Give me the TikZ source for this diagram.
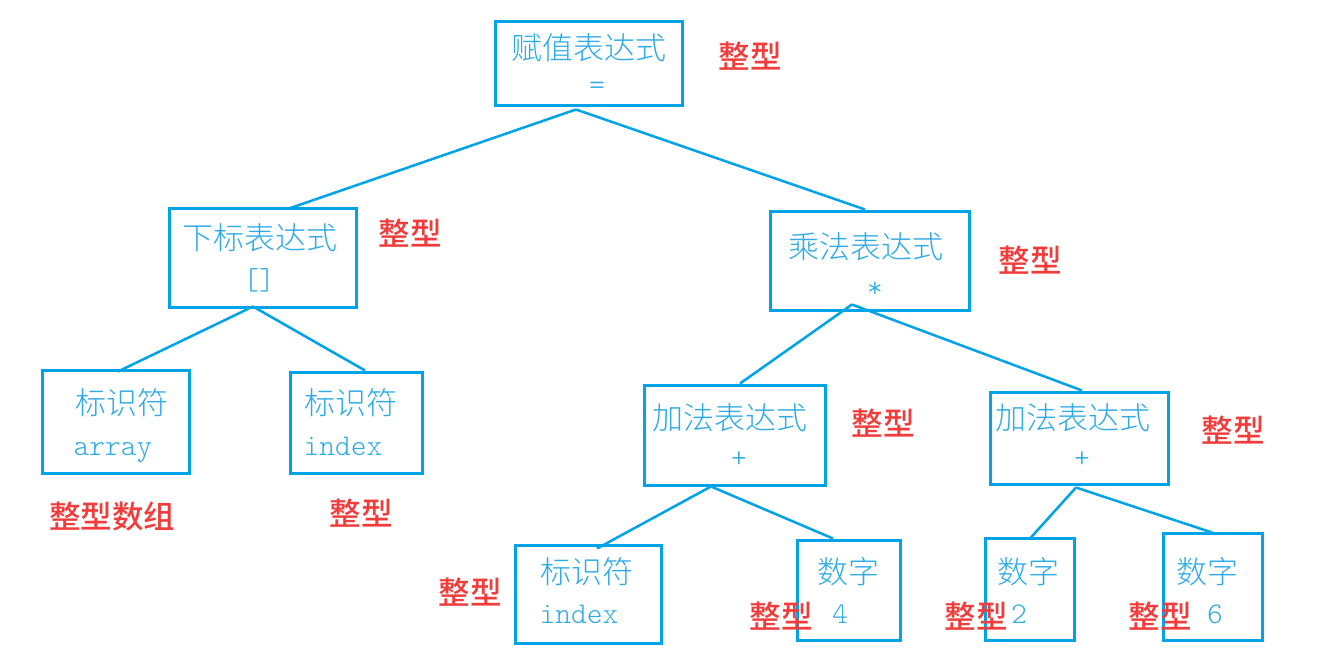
\documentclass[tikz,border=0pt]{standalone}
\usepackage{fontspec}
\setmainfont{Noto Sans CJK SC}
\newfontfamily\cjklight{Noto Sans CJK SC Light}
\newfontfamily\cjkmed{Noto Sans CJK SC Medium}
\newfontfamily\monolight{Latin Modern Mono Light}
\definecolor{boxblue}{HTML}{00A2E8}
\definecolor{txtblue}{HTML}{2EAAE6}
\definecolor{typred}{HTML}{F23B3B}
\begin{document}
\begin{tikzpicture}[x=1pt,y={(0pt,-1pt)},
  box/.style={draw=boxblue, line width=3pt, inner sep=0pt, rectangle},
  edge/.style={draw=boxblue, line width=2.5pt},
  cn/.style={text=txtblue, font=\fontsize{31}{31}\selectfont\cjklight, inner sep=0pt},
  lat/.style={text=txtblue, font=\fontsize{30}{30}\selectfont\monolight, inner sep=0pt},
  typ/.style={text=typred, font=\fontsize{31.5}{31.5}\selectfont\cjkmed, inner sep=0pt}]
\useasboundingbox (0,0) rectangle (1323,650);
% boxes
\node[box, minimum width=187pt, minimum height=84pt]  (b1)  at (588.5,64) {};
\node[box, minimum width=187pt, minimum height=99pt]  (b2)  at (262.5,257.5) {};
\node[box, minimum width=199pt, minimum height=99pt]  (b3)  at (869.5,260.5) {};
\node[box, minimum width=147pt, minimum height=103pt] (b4)  at (115.5,421.5) {};
\node[box, minimum width=132pt, minimum height=101pt] (b5)  at (356,422.5) {};
\node[box, minimum width=181pt, minimum height=100pt] (b6)  at (734.5,435) {};
\node[box, minimum width=178pt, minimum height=92pt]  (b7)  at (1079,438) {};
\node[box, minimum width=146pt, minimum height=98pt]  (b8)  at (588,594) {};
\node[box, minimum width=103pt, minimum height=100pt] (b9)  at (848.5,590) {};
\node[box, minimum width=89pt,  minimum height=102pt] (b10) at (1029.5,589) {};
\node[box, minimum width=99pt,  minimum height=107pt] (b11) at (1212.5,586.5) {};
% connectors
\draw[edge] ([shift={(-12.5,2)}]b1.south) -- ([shift={(26.5,2)}]b2.north);
\draw[edge] ([shift={(-12.5,2)}]b1.south) -- ([shift={(-4.5,0)}]b3.north);
\draw[edge] ([shift={(-9.5,-2)}]b2.south) -- ([shift={(2.5,3)}]b4.north);
\draw[edge] ([shift={(-9.5,-2)}]b2.south) -- ([shift={(9,0)}]b5.north);
\draw[edge] ([shift={(-17.5,-7)}]b3.south) -- ([shift={(5.5,0)}]b6.north);
\draw[edge] ([shift={(-17.5,-7)}]b3.south) -- ([shift={(3,0)}]b7.north);
\draw[edge] ([shift={(-23.5,0)}]b6.south) -- ([shift={(9,5)}]b8.north);
\draw[edge] ([shift={(-23.5,0)}]b6.south) -- ([shift={(-15.5,0)}]b9.north);
\draw[edge] ([shift={(-3,2)}]b7.south) -- ([shift={(0.5,2)}]b10.north);
\draw[edge] ([shift={(-3,2)}]b7.south) -- ([shift={(2.5,2)}]b11.north);
% box texts
\node[cn] (t1) at (589,48) {赋值表达式};
\node[lat] (s1) at (597,88) {=};
\node[cn] (t2) at (260,238) {下标表达式};
\node[lat] (s2) at (259,280) {[]};
\node[cn] (t3) at (866,247) {乘法表达式};
\node[lat] (s3) at (875,290) {*};
\node[cn] (t4) at (122,403) {标识符};
\node[lat, anchor=base] (s4) at (113,455) {array};
\node[cn] (t5) at (351,403) {标识符};
\node[lat, anchor=base] (s5) at (343,455) {index};
\node[cn] (t6) at (730,418) {加法表达式};
\node[lat] (s6) at (739,460) {+};
\node[cn] (t7) at (1073,418) {加法表达式};
\node[lat] (s7) at (1082,460) {+};
\node[cn] (t8) at (587,572) {标识符};
\node[lat, anchor=base] (s8) at (579,623) {index};
\node[cn] (t9) at (848,572) {数字};
\node[lat, anchor=base] (s9) at (840,623) {4};
\node[cn] (t10) at (1028,572) {数字};
\node[lat, anchor=base] (s10) at (1019,623) {2};
\node[cn] (t11) at (1207,572) {数字};
\node[lat, anchor=base] (s11) at (1215,623) {6};
% type labels
\node[typ] (r1) at (750,56) {整型};
\node[typ] (r2) at (410,233) {整型};
\node[typ] (r3) at (1030,260) {整型};
\node[typ] (r4) at (112,517) {整型数组};
\node[typ] (r5) at (361,513) {整型};
\node[typ] (r6) at (883,423) {整型};
\node[typ] (r7) at (1233,430) {整型};
\node[typ] (r8) at (470,592) {整型};
\node[typ] (r9) at (781,616) {整型};
\node[typ] (r10) at (976,616) {整型};
\node[typ] (r11) at (1160,616) {整型};
\end{tikzpicture}
\end{document}
